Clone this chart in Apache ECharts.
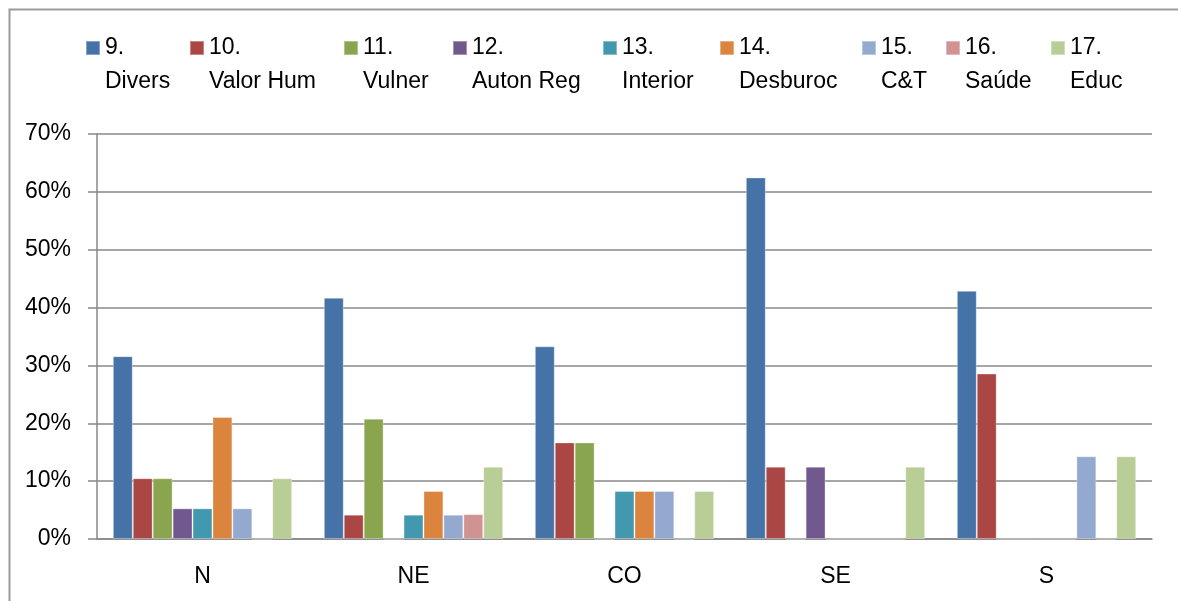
<!DOCTYPE html>
<html>
<head>
<meta charset="utf-8">
<script src="https://cdn.jsdelivr.net/npm/echarts@6/dist/echarts.min.js"></script>
<style>html,body{margin:0;padding:0;background:#fff}#c{width:1178px;height:601px}</style>
</head>
<body>
<div id="c"></div>
<script>
const categories = ['N', 'NE', 'CO', 'SE', 'S'];
const seriesNums = ['9.', '10.', '11.', '12.', '13.', '14.', '15.', '16.', '17.'];
const seriesNames = ['Divers', 'Valor Hum', 'Vulner', 'Auton Reg', 'Interior', 'Desburoc', 'C&T', 'Saúde', 'Educ'];
const divers   = [31.6, 41.7, 33.3, 62.5, 42.9];
const valorHum = [10.5, 4.2, 16.7, 12.5, 28.6];
const vulner   = [10.5, 20.8, 16.7, 0, 0];
const autonReg = [5.3, 0, 0, 12.5, 0];
const interior = [5.3, 4.2, 8.3, 0, 0];
const desburoc = [21.1, 8.3, 8.3, 0, 0];
const ct       = [5.3, 4.2, 8.3, 0, 14.3];
const saude    = [0, 4.3, 0, 0, 0];
const educ     = [10.5, 12.5, 8.3, 12.5, 14.3];
const yTicks = [0, 10, 20, 30, 40, 50, 60, 70];

const seriesValues = [divers, valorHum, vulner, autonReg, interior, desburoc, ct, saude, educ];
const colors = ['#4572A7', '#AA4643', '#89A54E', '#71588F', '#4198AF', '#DB843D', '#93A9CF', '#D19392', '#B9CD96'];
const legendTextWidths = [84, 134, 89, 130, 97, 122, 64, 85, 60];
const FONT = '"Liberation Sans", Arial, sans-serif';

const rich = {};
legendTextWidths.forEach((w, i) => {
  rich['w' + i] = { width: w, fontSize: 23, lineHeight: 34, fontFamily: FONT, color: '#000' };
});

const chart = echarts.init(document.getElementById('c'), null, { renderer: 'canvas' });
chart.setOption({
  animation: false,
  color: colors,
  graphic: [{
    type: 'rect', left: 7, top: 7, z: 100,
    shape: { width: 1300, height: 700 },
    style: { fill: 'none', stroke: '#9a9a9a', lineWidth: 2 }
  }],
  legend: {
    left: 85, top: -3, padding: 0,
    itemWidth: 14, itemHeight: 14, itemGap: 0,
    icon: 'rect', selectedMode: false,
    data: seriesNames,
    formatter: function (name) {
      const i = seriesNames.indexOf(name);
      const k = 'w' + i;
      return '{' + k + '|}\n{' + k + '|' + seriesNums[i] + '}\n{' + k + '|' + name + '}';
    },
    textStyle: { fontSize: 23, fontFamily: FONT, color: '#000', lineHeight: 34, rich: rich }
  },
  grid: { left: 97, right: 26, top: 134, bottom: 62, containLabel: false },
  xAxis: {
    type: 'category', data: categories,
    axisLine: { lineStyle: { color: '#888', width: 1.5 } },
    axisTick: { length: 8, lineStyle: { color: '#888', width: 1.5 } },
    axisLabel: { fontSize: 23, fontFamily: FONT, color: '#000', margin: 26 }
  },
  yAxis: {
    type: 'value', min: yTicks[0], max: yTicks[yTicks.length - 1], interval: 10,
    axisLine: { show: true, lineStyle: { color: '#888', width: 1.5 } },
    axisTick: { show: true, length: 9, lineStyle: { color: '#888', width: 1.5 } },
    splitLine: { lineStyle: { color: '#888', width: 1.5 } },
    axisLabel: { fontSize: 23, fontFamily: FONT, color: '#000', margin: 26, formatter: v => v + '%' }
  },
  series: seriesNames.map((n, i) => ({
    name: n, type: 'bar', data: seriesValues[i],
    barGap: '0%', barCategoryGap: '15%',
    itemStyle: { color: colors[i], borderColor: 'rgba(255,255,255,0.35)', borderWidth: 1 }
  }))
});
</script>
</body>
</html>
